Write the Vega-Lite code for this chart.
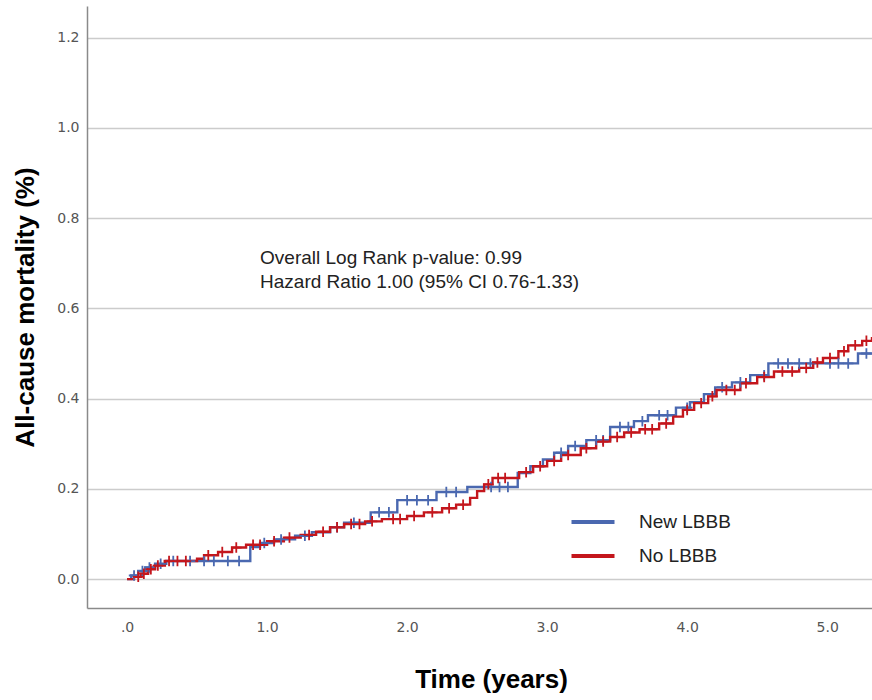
{
  "$schema": "https://vega.github.io/schema/vega-lite/v6.json",
  "width": 785,
  "height": 602,
  "autosize": "none",
  "padding": {"left": 87, "top": 6, "right": 0, "bottom": 92},
  "background": "white",
  "config": {
    "view": {"stroke": null},
    "font": "Liberation Sans"
  },
  "data": {
    "values": [
      {"group": "New LBBB", "time": 0.00, "mortality": 0.000, "censored": false},
      {"group": "New LBBB", "time": 0.03, "mortality": 0.008, "censored": false},
      {"group": "New LBBB", "time": 0.05, "mortality": 0.008, "censored": true},
      {"group": "New LBBB", "time": 0.08, "mortality": 0.018, "censored": false},
      {"group": "New LBBB", "time": 0.11, "mortality": 0.018, "censored": true},
      {"group": "New LBBB", "time": 0.13, "mortality": 0.026, "censored": false},
      {"group": "New LBBB", "time": 0.16, "mortality": 0.026, "censored": true},
      {"group": "New LBBB", "time": 0.20, "mortality": 0.034, "censored": false},
      {"group": "New LBBB", "time": 0.24, "mortality": 0.034, "censored": true},
      {"group": "New LBBB", "time": 0.28, "mortality": 0.040, "censored": false},
      {"group": "New LBBB", "time": 0.33, "mortality": 0.040, "censored": true},
      {"group": "New LBBB", "time": 0.45, "mortality": 0.040, "censored": true},
      {"group": "New LBBB", "time": 0.55, "mortality": 0.040, "censored": true},
      {"group": "New LBBB", "time": 0.62, "mortality": 0.040, "censored": true},
      {"group": "New LBBB", "time": 0.72, "mortality": 0.040, "censored": true},
      {"group": "New LBBB", "time": 0.80, "mortality": 0.040, "censored": true},
      {"group": "New LBBB", "time": 0.88, "mortality": 0.071, "censored": false},
      {"group": "New LBBB", "time": 0.95, "mortality": 0.080, "censored": false},
      {"group": "New LBBB", "time": 0.98, "mortality": 0.080, "censored": true},
      {"group": "New LBBB", "time": 1.05, "mortality": 0.088, "censored": false},
      {"group": "New LBBB", "time": 1.10, "mortality": 0.088, "censored": true},
      {"group": "New LBBB", "time": 1.20, "mortality": 0.096, "censored": false},
      {"group": "New LBBB", "time": 1.27, "mortality": 0.096, "censored": true},
      {"group": "New LBBB", "time": 1.32, "mortality": 0.104, "censored": false},
      {"group": "New LBBB", "time": 1.45, "mortality": 0.115, "censored": false},
      {"group": "New LBBB", "time": 1.50, "mortality": 0.115, "censored": true},
      {"group": "New LBBB", "time": 1.55, "mortality": 0.125, "censored": false},
      {"group": "New LBBB", "time": 1.62, "mortality": 0.125, "censored": true},
      {"group": "New LBBB", "time": 1.74, "mortality": 0.148, "censored": false},
      {"group": "New LBBB", "time": 1.80, "mortality": 0.148, "censored": true},
      {"group": "New LBBB", "time": 1.87, "mortality": 0.148, "censored": true},
      {"group": "New LBBB", "time": 1.93, "mortality": 0.175, "censored": false},
      {"group": "New LBBB", "time": 2.00, "mortality": 0.175, "censored": true},
      {"group": "New LBBB", "time": 2.07, "mortality": 0.175, "censored": true},
      {"group": "New LBBB", "time": 2.15, "mortality": 0.175, "censored": true},
      {"group": "New LBBB", "time": 2.21, "mortality": 0.193, "censored": false},
      {"group": "New LBBB", "time": 2.28, "mortality": 0.193, "censored": true},
      {"group": "New LBBB", "time": 2.35, "mortality": 0.193, "censored": true},
      {"group": "New LBBB", "time": 2.43, "mortality": 0.204, "censored": false},
      {"group": "New LBBB", "time": 2.60, "mortality": 0.204, "censored": true},
      {"group": "New LBBB", "time": 2.66, "mortality": 0.204, "censored": true},
      {"group": "New LBBB", "time": 2.72, "mortality": 0.204, "censored": true},
      {"group": "New LBBB", "time": 2.79, "mortality": 0.235, "censored": false},
      {"group": "New LBBB", "time": 2.88, "mortality": 0.250, "censored": false},
      {"group": "New LBBB", "time": 2.97, "mortality": 0.265, "censored": false},
      {"group": "New LBBB", "time": 3.05, "mortality": 0.280, "censored": false},
      {"group": "New LBBB", "time": 3.10, "mortality": 0.280, "censored": true},
      {"group": "New LBBB", "time": 3.15, "mortality": 0.295, "censored": false},
      {"group": "New LBBB", "time": 3.20, "mortality": 0.295, "censored": true},
      {"group": "New LBBB", "time": 3.28, "mortality": 0.308, "censored": false},
      {"group": "New LBBB", "time": 3.35, "mortality": 0.308, "censored": true},
      {"group": "New LBBB", "time": 3.40, "mortality": 0.308, "censored": true},
      {"group": "New LBBB", "time": 3.45, "mortality": 0.337, "censored": false},
      {"group": "New LBBB", "time": 3.52, "mortality": 0.337, "censored": true},
      {"group": "New LBBB", "time": 3.58, "mortality": 0.337, "censored": true},
      {"group": "New LBBB", "time": 3.62, "mortality": 0.350, "censored": false},
      {"group": "New LBBB", "time": 3.68, "mortality": 0.350, "censored": true},
      {"group": "New LBBB", "time": 3.72, "mortality": 0.363, "censored": false},
      {"group": "New LBBB", "time": 3.80, "mortality": 0.363, "censored": true},
      {"group": "New LBBB", "time": 3.86, "mortality": 0.363, "censored": true},
      {"group": "New LBBB", "time": 3.92, "mortality": 0.380, "censored": false},
      {"group": "New LBBB", "time": 4.00, "mortality": 0.380, "censored": true},
      {"group": "New LBBB", "time": 4.02, "mortality": 0.392, "censored": false},
      {"group": "New LBBB", "time": 4.12, "mortality": 0.410, "censored": false},
      {"group": "New LBBB", "time": 4.20, "mortality": 0.425, "censored": false},
      {"group": "New LBBB", "time": 4.25, "mortality": 0.425, "censored": true},
      {"group": "New LBBB", "time": 4.32, "mortality": 0.436, "censored": false},
      {"group": "New LBBB", "time": 4.38, "mortality": 0.436, "censored": true},
      {"group": "New LBBB", "time": 4.45, "mortality": 0.452, "censored": false},
      {"group": "New LBBB", "time": 4.55, "mortality": 0.452, "censored": true},
      {"group": "New LBBB", "time": 4.58, "mortality": 0.478, "censored": false},
      {"group": "New LBBB", "time": 4.65, "mortality": 0.478, "censored": true},
      {"group": "New LBBB", "time": 4.72, "mortality": 0.478, "censored": true},
      {"group": "New LBBB", "time": 4.80, "mortality": 0.478, "censored": true},
      {"group": "New LBBB", "time": 4.88, "mortality": 0.478, "censored": true},
      {"group": "New LBBB", "time": 5.02, "mortality": 0.478, "censored": true},
      {"group": "New LBBB", "time": 5.08, "mortality": 0.478, "censored": true},
      {"group": "New LBBB", "time": 5.15, "mortality": 0.478, "censored": true},
      {"group": "New LBBB", "time": 5.22, "mortality": 0.500, "censored": false},
      {"group": "New LBBB", "time": 5.28, "mortality": 0.500, "censored": true},
      {"group": "New LBBB", "time": 5.40, "mortality": 0.500, "censored": false},
      {"group": "No LBBB", "time": 0.00, "mortality": 0.000, "censored": false},
      {"group": "No LBBB", "time": 0.05, "mortality": 0.005, "censored": false},
      {"group": "No LBBB", "time": 0.08, "mortality": 0.005, "censored": true},
      {"group": "No LBBB", "time": 0.10, "mortality": 0.012, "censored": false},
      {"group": "No LBBB", "time": 0.12, "mortality": 0.012, "censored": true},
      {"group": "No LBBB", "time": 0.15, "mortality": 0.022, "censored": false},
      {"group": "No LBBB", "time": 0.17, "mortality": 0.022, "censored": true},
      {"group": "No LBBB", "time": 0.20, "mortality": 0.030, "censored": false},
      {"group": "No LBBB", "time": 0.22, "mortality": 0.030, "censored": true},
      {"group": "No LBBB", "time": 0.27, "mortality": 0.040, "censored": false},
      {"group": "No LBBB", "time": 0.30, "mortality": 0.040, "censored": true},
      {"group": "No LBBB", "time": 0.36, "mortality": 0.040, "censored": true},
      {"group": "No LBBB", "time": 0.42, "mortality": 0.040, "censored": true},
      {"group": "No LBBB", "time": 0.50, "mortality": 0.045, "censored": false},
      {"group": "No LBBB", "time": 0.55, "mortality": 0.053, "censored": false},
      {"group": "No LBBB", "time": 0.58, "mortality": 0.053, "censored": true},
      {"group": "No LBBB", "time": 0.65, "mortality": 0.060, "censored": false},
      {"group": "No LBBB", "time": 0.68, "mortality": 0.060, "censored": true},
      {"group": "No LBBB", "time": 0.75, "mortality": 0.070, "censored": false},
      {"group": "No LBBB", "time": 0.78, "mortality": 0.070, "censored": true},
      {"group": "No LBBB", "time": 0.85, "mortality": 0.076, "censored": false},
      {"group": "No LBBB", "time": 0.90, "mortality": 0.076, "censored": true},
      {"group": "No LBBB", "time": 0.95, "mortality": 0.076, "censored": true},
      {"group": "No LBBB", "time": 1.00, "mortality": 0.084, "censored": false},
      {"group": "No LBBB", "time": 1.05, "mortality": 0.084, "censored": true},
      {"group": "No LBBB", "time": 1.12, "mortality": 0.092, "censored": false},
      {"group": "No LBBB", "time": 1.16, "mortality": 0.092, "censored": true},
      {"group": "No LBBB", "time": 1.24, "mortality": 0.098, "censored": false},
      {"group": "No LBBB", "time": 1.30, "mortality": 0.098, "censored": true},
      {"group": "No LBBB", "time": 1.35, "mortality": 0.105, "censored": false},
      {"group": "No LBBB", "time": 1.40, "mortality": 0.105, "censored": true},
      {"group": "No LBBB", "time": 1.45, "mortality": 0.115, "censored": false},
      {"group": "No LBBB", "time": 1.50, "mortality": 0.115, "censored": true},
      {"group": "No LBBB", "time": 1.55, "mortality": 0.122, "censored": false},
      {"group": "No LBBB", "time": 1.60, "mortality": 0.122, "censored": true},
      {"group": "No LBBB", "time": 1.66, "mortality": 0.122, "censored": true},
      {"group": "No LBBB", "time": 1.70, "mortality": 0.128, "censored": false},
      {"group": "No LBBB", "time": 1.75, "mortality": 0.128, "censored": true},
      {"group": "No LBBB", "time": 1.82, "mortality": 0.133, "censored": false},
      {"group": "No LBBB", "time": 1.90, "mortality": 0.133, "censored": true},
      {"group": "No LBBB", "time": 1.95, "mortality": 0.133, "censored": true},
      {"group": "No LBBB", "time": 2.00, "mortality": 0.140, "censored": false},
      {"group": "No LBBB", "time": 2.05, "mortality": 0.140, "censored": true},
      {"group": "No LBBB", "time": 2.12, "mortality": 0.148, "censored": false},
      {"group": "No LBBB", "time": 2.18, "mortality": 0.148, "censored": true},
      {"group": "No LBBB", "time": 2.25, "mortality": 0.157, "censored": false},
      {"group": "No LBBB", "time": 2.30, "mortality": 0.157, "censored": true},
      {"group": "No LBBB", "time": 2.35, "mortality": 0.165, "censored": false},
      {"group": "No LBBB", "time": 2.40, "mortality": 0.165, "censored": true},
      {"group": "No LBBB", "time": 2.45, "mortality": 0.180, "censored": false},
      {"group": "No LBBB", "time": 2.50, "mortality": 0.195, "censored": false},
      {"group": "No LBBB", "time": 2.55, "mortality": 0.210, "censored": false},
      {"group": "No LBBB", "time": 2.58, "mortality": 0.210, "censored": true},
      {"group": "No LBBB", "time": 2.61, "mortality": 0.224, "censored": false},
      {"group": "No LBBB", "time": 2.65, "mortality": 0.224, "censored": true},
      {"group": "No LBBB", "time": 2.70, "mortality": 0.224, "censored": true},
      {"group": "No LBBB", "time": 2.80, "mortality": 0.237, "censored": false},
      {"group": "No LBBB", "time": 2.85, "mortality": 0.237, "censored": true},
      {"group": "No LBBB", "time": 2.90, "mortality": 0.250, "censored": false},
      {"group": "No LBBB", "time": 2.95, "mortality": 0.250, "censored": true},
      {"group": "No LBBB", "time": 3.00, "mortality": 0.262, "censored": false},
      {"group": "No LBBB", "time": 3.05, "mortality": 0.262, "censored": true},
      {"group": "No LBBB", "time": 3.10, "mortality": 0.275, "censored": false},
      {"group": "No LBBB", "time": 3.15, "mortality": 0.275, "censored": true},
      {"group": "No LBBB", "time": 3.24, "mortality": 0.290, "censored": false},
      {"group": "No LBBB", "time": 3.28, "mortality": 0.290, "censored": true},
      {"group": "No LBBB", "time": 3.35, "mortality": 0.305, "censored": false},
      {"group": "No LBBB", "time": 3.40, "mortality": 0.305, "censored": true},
      {"group": "No LBBB", "time": 3.45, "mortality": 0.315, "censored": false},
      {"group": "No LBBB", "time": 3.50, "mortality": 0.315, "censored": true},
      {"group": "No LBBB", "time": 3.55, "mortality": 0.325, "censored": false},
      {"group": "No LBBB", "time": 3.60, "mortality": 0.325, "censored": true},
      {"group": "No LBBB", "time": 3.66, "mortality": 0.332, "censored": false},
      {"group": "No LBBB", "time": 3.70, "mortality": 0.332, "censored": true},
      {"group": "No LBBB", "time": 3.75, "mortality": 0.332, "censored": true},
      {"group": "No LBBB", "time": 3.80, "mortality": 0.345, "censored": false},
      {"group": "No LBBB", "time": 3.85, "mortality": 0.345, "censored": true},
      {"group": "No LBBB", "time": 3.90, "mortality": 0.360, "censored": false},
      {"group": "No LBBB", "time": 3.97, "mortality": 0.375, "censored": false},
      {"group": "No LBBB", "time": 4.00, "mortality": 0.375, "censored": true},
      {"group": "No LBBB", "time": 4.05, "mortality": 0.390, "censored": false},
      {"group": "No LBBB", "time": 4.10, "mortality": 0.390, "censored": true},
      {"group": "No LBBB", "time": 4.15, "mortality": 0.405, "censored": false},
      {"group": "No LBBB", "time": 4.18, "mortality": 0.405, "censored": true},
      {"group": "No LBBB", "time": 4.21, "mortality": 0.419, "censored": false},
      {"group": "No LBBB", "time": 4.28, "mortality": 0.419, "censored": true},
      {"group": "No LBBB", "time": 4.34, "mortality": 0.419, "censored": true},
      {"group": "No LBBB", "time": 4.38, "mortality": 0.434, "censored": false},
      {"group": "No LBBB", "time": 4.42, "mortality": 0.434, "censored": true},
      {"group": "No LBBB", "time": 4.50, "mortality": 0.448, "censored": false},
      {"group": "No LBBB", "time": 4.55, "mortality": 0.448, "censored": true},
      {"group": "No LBBB", "time": 4.62, "mortality": 0.460, "censored": false},
      {"group": "No LBBB", "time": 4.68, "mortality": 0.460, "censored": true},
      {"group": "No LBBB", "time": 4.75, "mortality": 0.460, "censored": true},
      {"group": "No LBBB", "time": 4.80, "mortality": 0.468, "censored": false},
      {"group": "No LBBB", "time": 4.85, "mortality": 0.468, "censored": true},
      {"group": "No LBBB", "time": 4.90, "mortality": 0.480, "censored": false},
      {"group": "No LBBB", "time": 4.93, "mortality": 0.480, "censored": true},
      {"group": "No LBBB", "time": 4.97, "mortality": 0.490, "censored": false},
      {"group": "No LBBB", "time": 5.02, "mortality": 0.490, "censored": true},
      {"group": "No LBBB", "time": 5.08, "mortality": 0.505, "censored": false},
      {"group": "No LBBB", "time": 5.12, "mortality": 0.505, "censored": true},
      {"group": "No LBBB", "time": 5.15, "mortality": 0.518, "censored": false},
      {"group": "No LBBB", "time": 5.20, "mortality": 0.518, "censored": true},
      {"group": "No LBBB", "time": 5.25, "mortality": 0.528, "censored": false},
      {"group": "No LBBB", "time": 5.28, "mortality": 0.528, "censored": true},
      {"group": "No LBBB", "time": 5.32, "mortality": 0.534, "censored": false},
      {"group": "No LBBB", "time": 5.40, "mortality": 0.534, "censored": false}
    ]
  },
  "layer": [
    {
      "mark": {"type": "line", "interpolate": "step-after", "strokeWidth": 2.4, "clip": true},
      "encoding": {
        "x": {
          "field": "time",
          "type": "quantitative",
          "scale": {"domain": [-0.286, 5.32], "nice": false, "zero": false},
          "axis": {
            "title": "Time (years)",
            "titleFont": "Liberation Sans",
            "titleFontSize": 26,
            "titleFontWeight": "bold",
            "titleColor": "black",
            "titleX": 404,
            "titleY": 79,
            "titleBaseline": "alphabetic",
            "values": [0, 1, 2, 3, 4, 5],
            "labelExpr": "datum.value == 0 ? '.0' : format(datum.value, '.1f')",
            "labelFont": "DejaVu Sans",
            "labelFontSize": 14,
            "labelColor": "#555555",
            "labelPadding": 12,
            "ticks": false,
            "grid": false,
            "domainColor": "#8a8a8a",
            "domainWidth": 1.5
          }
        },
        "y": {
          "field": "mortality",
          "type": "quantitative",
          "scale": {"domain": [-0.064, 1.27], "nice": false, "zero": false},
          "axis": {
            "title": "All-cause mortality (%)",
            "titleFont": "Liberation Sans",
            "titleFontSize": 26,
            "titleFontWeight": "bold",
            "titleColor": "black",
            "titleX": -54,
            "titleY": 301,
            "titleAngle": -90,
            "titleAlign": "center",
            "titleBaseline": "alphabetic",
            "values": [0, 0.2, 0.4, 0.6, 0.8, 1.0, 1.2],
            "format": ".1f",
            "labelFont": "DejaVu Sans",
            "labelFontSize": 14,
            "labelColor": "#555555",
            "labelPadding": 8,
            "ticks": false,
            "grid": true,
            "gridColor": "#cccccc",
            "gridWidth": 1.5,
            "domainColor": "#8a8a8a",
            "domainWidth": 1.5
          }
        },
        "color": {
          "field": "group",
          "type": "nominal",
          "scale": {"domain": ["New LBBB", "No LBBB"], "range": ["#4a68b0", "#c4161c"]},
          "legend": {
            "title": null,
            "orient": "none",
            "legendX": 482,
            "legendY": 492,
            "symbolType": "stroke",
            "symbolSize": 1850,
            "symbolStrokeWidth": 4,
            "labelFont": "Liberation Sans",
            "labelFontSize": 19,
            "labelColor": "#222222",
            "labelOffset": 22,
            "rowPadding": -9,
            "padding": 0
          }
        }
      }
    },
    {
      "transform": [{"filter": "datum.censored"}],
      "mark": {
        "type": "point",
        "shape": "M-1,0H1M0,-1V1",
        "filled": false,
        "size": 110,
        "strokeWidth": 1.8,
        "opacity": 1,
        "clip": true
      },
      "encoding": {
        "x": {"field": "time", "type": "quantitative"},
        "y": {"field": "mortality", "type": "quantitative"},
        "color": {"field": "group", "type": "nominal", "legend": null}
      }
    },
    {
      "data": {"values": [{"note": "Overall Log Rank p-value: 0.99"}]},
      "mark": {"type": "text", "align": "left", "baseline": "middle", "fontSize": 19, "font": "Liberation Sans", "fill": "#222222"},
      "encoding": {
        "x": {"datum": 0.95, "type": "quantitative"},
        "y": {"datum": 0.711, "type": "quantitative"},
        "text": {"field": "note", "type": "nominal"}
      }
    },
    {
      "data": {"values": [{"note": "Hazard Ratio 1.00 (95% CI 0.76-1.33)"}]},
      "mark": {"type": "text", "align": "left", "baseline": "middle", "fontSize": 19, "font": "Liberation Sans", "fill": "#222222"},
      "encoding": {
        "x": {"datum": 0.95, "type": "quantitative"},
        "y": {"datum": 0.658, "type": "quantitative"},
        "text": {"field": "note", "type": "nominal"}
      }
    }
  ]
}
